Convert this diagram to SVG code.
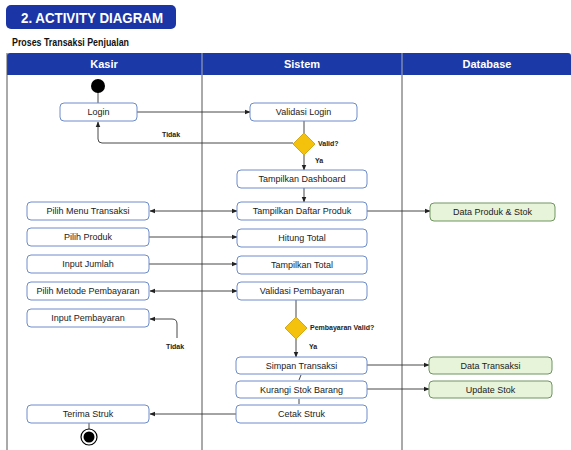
<svg xmlns="http://www.w3.org/2000/svg" width="571" height="450" viewBox="0 0 571 450">
<defs>
<marker id="ah" viewBox="0 0 10 10" refX="9" refY="5" markerWidth="6" markerHeight="6" orient="auto-start-reverse" markerUnits="userSpaceOnUse">
<path d="M0,1 L10,5 L0,9 z" fill="#222"/>
</marker>
<style>
text{font-family:"Liberation Sans",Arial,sans-serif;}
.box{fill:#fff;stroke:#6d8cc8;stroke-width:1;}
.db{fill:#e8f4da;stroke:#6f9560;stroke-width:1;}
.t{font-size:9px;fill:#222;text-anchor:middle;}
.lbl{font-size:7px;font-weight:bold;fill:#222;}
.c{fill:none;stroke:#333;stroke-width:0.9;}
.ca{fill:none;stroke:#333;stroke-width:0.9;marker-end:url(#ah);}
.hd{font-size:11px;font-weight:bold;fill:#fff;text-anchor:middle;}
.lane{stroke:#555;stroke-width:1;}
.dia{fill:#f4c20d;stroke:#c89a00;stroke-width:0.8;}
</style>
</defs>
<rect width="571" height="450" fill="#fff"/>
<g id="title">
<rect x="6" y="5" width="170" height="24" rx="5" fill="#1b34a6"/>
<text x="21" y="23" font-size="15" font-weight="bold" fill="#fff" textLength="142" lengthAdjust="spacingAndGlyphs">2. ACTIVITY DIAGRAM</text>
<text x="12" y="46" font-size="10.5" font-weight="bold" fill="#111" textLength="117" lengthAdjust="spacingAndGlyphs">Proses Transaksi Penjualan</text>
</g>
<g id="lanes">
<rect x="7" y="53" width="564" height="22" rx="3" fill="#1b3aa8"/>
<rect x="7" y="63" width="564" height="12" fill="#1b3aa8"/>
<line class="lane" x1="7" y1="53" x2="7" y2="450"/>
<line class="lane" x1="202" y1="53" x2="202" y2="450"/>
<line class="lane" x1="402" y1="53" x2="402" y2="450"/>
<line x1="202" y1="53" x2="202" y2="75" stroke="#8fa3e0" stroke-width="1"/>
<line x1="402" y1="53" x2="402" y2="75" stroke="#8fa3e0" stroke-width="1"/>
<text class="hd" x="104" y="68">Kasir</text>
<text class="hd" x="302" y="68">Sistem</text>
<text class="hd" x="487" y="68">Database</text>
</g>
<g id="connectors">
<line class="c" x1="98" y1="86" x2="98" y2="103"/>
<line class="ca" x1="137" y1="112" x2="250" y2="112"/>
<line class="c" x1="304" y1="121" x2="304" y2="133"/>
<path class="ca" d="M293,143 L102,143 Q98,143 98,139 L98,122"/>
<text class="lbl" x="162" y="137">Tidak</text>
<text class="lbl" x="318" y="146">Valid?</text>
<line class="ca" x1="304" y1="155" x2="304" y2="170"/>
<text class="lbl" x="315" y="163">Ya</text>
<line class="ca" x1="304" y1="188" x2="304" y2="202"/>
<line class="ca" x1="367" y1="211" x2="430" y2="211"/>
<line class="ca" x1="190" y1="211" x2="150" y2="211"/>
<line class="ca" x1="190" y1="211" x2="237" y2="211"/>
<line class="ca" x1="149" y1="237" x2="237" y2="237"/>
<line class="ca" x1="149" y1="264" x2="237" y2="264"/>
<line class="ca" x1="190" y1="291" x2="150" y2="291"/>
<line class="ca" x1="190" y1="291" x2="237" y2="291"/>
<line class="c" x1="296" y1="300" x2="296" y2="317"/>
<text class="lbl" x="310" y="330">Pembayaran Valid?</text>
<line class="ca" x1="296" y1="339" x2="296" y2="357"/>
<text class="lbl" x="309" y="349">Ya</text>
<path class="ca" d="M177,338 L177,324 Q177,319 172,319 L150,319"/>
<text class="lbl" x="166" y="349">Tidak</text>
<line class="ca" x1="367" y1="365" x2="429" y2="365"/>
<line class="ca" x1="367" y1="389" x2="429" y2="389"/>
<line class="c" x1="301" y1="375" x2="299" y2="380"/>
<line class="c" x1="299" y1="399" x2="299" y2="404"/>
<line class="ca" x1="236" y1="414" x2="150" y2="414"/>
<line class="c" x1="89" y1="423" x2="89" y2="429"/>
</g>
<g id="start"><circle cx="98" cy="86" r="7" fill="#000"/></g>
<g id="login"><rect class="box" x="60" y="103" width="77" height="18" rx="4"/><text class="t" x="98.5" y="115">Login</text></g>
<g id="validasiLogin"><rect class="box" x="250" y="103" width="107" height="18" rx="4"/><text class="t" x="303.5" y="115">Validasi Login</text></g>
<g id="valid"><path class="dia" d="M304,133 L315,144 L304,155 L293,144 z"/></g>
<g id="dashboard"><rect class="box" x="237" y="170" width="130" height="18" rx="4"/><text class="t" x="302" y="182">Tampilkan Dashboard</text></g>
<g id="daftarProduk"><rect class="box" x="237" y="202" width="130" height="18" rx="4"/><text class="t" x="302" y="214">Tampilkan Daftar Produk</text></g>
<g id="dataProduk"><rect class="db" x="430" y="203" width="125" height="18" rx="4"/><text class="t" x="492.5" y="215">Data Produk &amp; Stok</text></g>
<g id="pilihMenu"><rect class="box" x="27" y="202" width="122" height="18" rx="4"/><text class="t" x="88" y="214">Pilih Menu Transaksi</text></g>
<g id="pilihProduk"><rect class="box" x="27" y="228" width="122" height="18" rx="4"/><text class="t" x="88" y="240">Pilih Produk</text></g>
<g id="hitungTotal"><rect class="box" x="237" y="229" width="130" height="18" rx="4"/><text class="t" x="302" y="241">Hitung Total</text></g>
<g id="inputJumlah"><rect class="box" x="27" y="255" width="122" height="18" rx="4"/><text class="t" x="88" y="267">Input Jumlah</text></g>
<g id="tampilkanTotal"><rect class="box" x="237" y="256" width="130" height="18" rx="4"/><text class="t" x="302" y="268">Tampilkan Total</text></g>
<g id="pilihMetode"><rect class="box" x="27" y="282" width="122" height="18" rx="4"/><text class="t" x="88" y="294">Pilih Metode Pembayaran</text></g>
<g id="validasiPembayaran"><rect class="box" x="237" y="282" width="130" height="18" rx="4"/><text class="t" x="302" y="294">Validasi Pembayaran</text></g>
<g id="bayarValid"><path class="dia" d="M296,317 L307,328 L296,339 L285,328 z"/></g>
<g id="inputPembayaran"><rect class="box" x="27" y="309" width="122" height="18" rx="4"/><text class="t" x="88" y="321">Input Pembayaran</text></g>
<g id="simpan"><rect class="box" x="236" y="357" width="131" height="17" rx="4"/><text class="t" x="301.5" y="369">Simpan Transaksi</text></g>
<g id="dataTransaksi"><rect class="db" x="429" y="357" width="123" height="17" rx="4"/><text class="t" x="490.5" y="369">Data Transaksi</text></g>
<g id="kurangi"><rect class="box" x="236" y="381" width="131" height="17" rx="4"/><text class="t" x="301.5" y="393">Kurangi Stok Barang</text></g>
<g id="updateStok"><rect class="db" x="429" y="381" width="123" height="17" rx="4"/><text class="t" x="490.5" y="393">Update Stok</text></g>
<g id="cetak"><rect class="box" x="236" y="405" width="131" height="18" rx="4"/><text class="t" x="301.5" y="417">Cetak Struk</text></g>
<g id="terima"><rect class="box" x="27" y="405" width="122" height="18" rx="4"/><text class="t" x="88" y="417">Terima Struk</text></g>
<g id="end"><circle cx="89" cy="437" r="8" fill="#fff" stroke="#000" stroke-width="1.2"/><circle cx="89" cy="437" r="5.5" fill="#000"/></g>
</svg>
